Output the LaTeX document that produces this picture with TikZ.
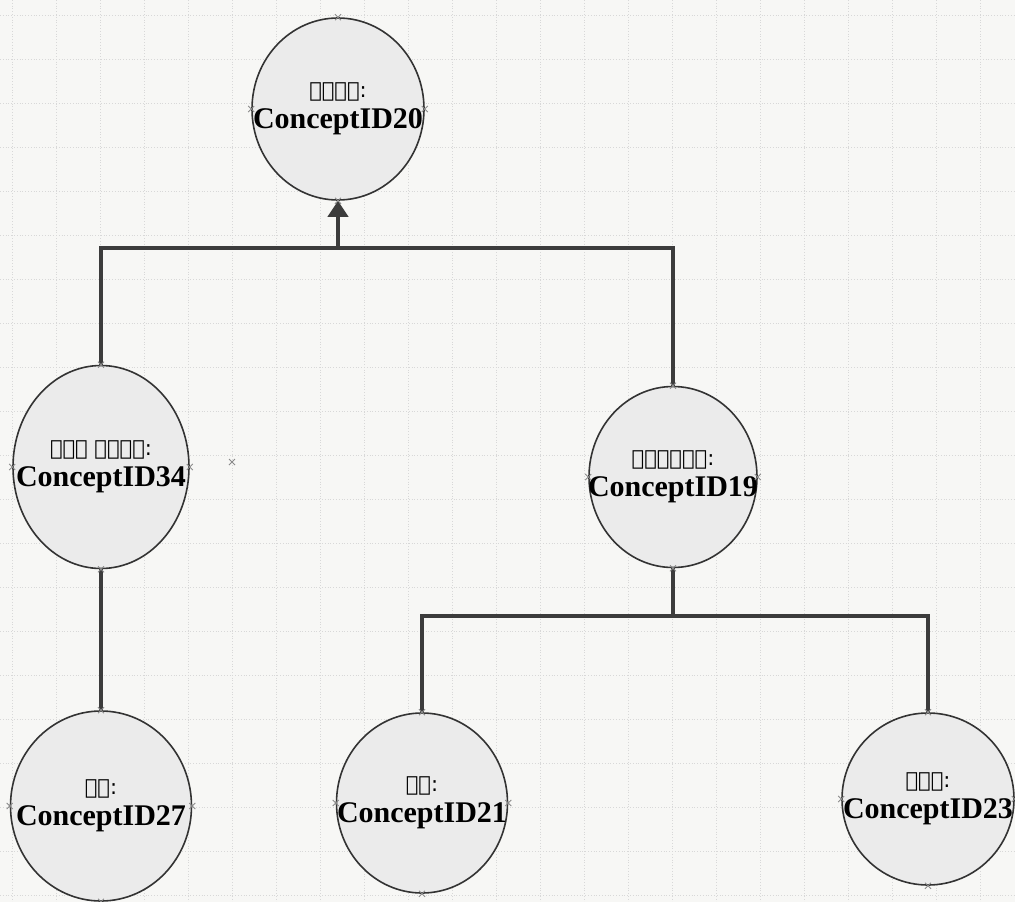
\documentclass[tikz,border=0pt]{standalone}
\usepackage{fontspec}
\setmainfont{Liberation Serif}
\newfontfamily\ethfont{DejaVu Sans}
\usetikzlibrary{shapes.geometric,arrows.meta}
\definecolor{bgc}{HTML}{F7F7F5}
\definecolor{gridc}{HTML}{D8D8D8}
\definecolor{fillc}{HTML}{EBEBEB}
\definecolor{edgec}{HTML}{333333}
\definecolor{connc}{HTML}{3C3C3C}
\definecolor{markc}{HTML}{8A8A8A}
\tikzset{
  concept/.style={ellipse, draw=edgec, fill=fillc, line width=1.6pt, inner sep=0pt},
  concepttext/.style={align=center, inner sep=0pt, text=black,
    font=\fontsize{30}{31}\selectfont\bfseries},
  conn/.style={draw=connc, line width=4.5pt},
  arrowconn/.style={conn, -{Triangle[width=20pt,length=16pt]}},
  xmark/.style={draw=markc, line width=0.9pt},
}
\newcommand{\eth}[1]{{\ethfont\mdseries\fontsize{21}{24}\selectfont #1}}
\newcommand{\anchormarks}[1]{%
  \foreach \a in {north,south,east,west}{%
    \draw[xmark] ([shift={(-3,-3)}]#1.\a) -- ([shift={(3,3)}]#1.\a)
                 ([shift={(-3,3)}]#1.\a) -- ([shift={(3,-3)}]#1.\a);}}
\begin{document}
\begin{tikzpicture}[x=1pt,y=-1pt]
\useasboundingbox (0,0) rectangle (1015,902);
\fill[bgc] (0,0) rectangle (1015,902);
% grid
\foreach \gx in {12,56,...,1015}{\draw[gridc, dotted, line width=0.8pt] (\gx,0) -- (\gx,902);}
\foreach \gy in {15,59,...,902}{\draw[gridc, dotted, line width=0.8pt] (0,\gy) -- (1015,\gy);}
% nodes
\node[concept, minimum width=172pt, minimum height=182pt,
  label={[concepttext]center:{\eth{ስፖርት:}\\ConceptID20}}] (n20) at (338,109) {};
\node[concept, minimum width=176pt, minimum height=203pt,
  label={[concepttext]center:{\eth{የውሃ ስፖርት:}\\ConceptID34}}] (n34) at (101,467) {};
\node[concept, minimum width=168pt, minimum height=181pt,
  label={[concepttext]center:{\eth{አትሌቲክስ:}\\ConceptID19}}] (n19) at (673,477) {};
\node[concept, minimum width=181pt, minimum height=190pt,
  label={[concepttext]center:{\eth{ዋና:}\\ConceptID27}}] (n27) at (101,806) {};
\node[concept, minimum width=171pt, minimum height=180pt,
  label={[concepttext]center:{\eth{ሩጫ:}\\ConceptID21}}] (n21) at (422,803) {};
\node[concept, minimum width=172pt, minimum height=172pt,
  label={[concepttext]center:{\eth{ዝላይ:}\\ConceptID23}}] (n23) at (928,799) {};
% junctions
\coordinate (j1) at (338,248);
\coordinate (j2) at (673,616);
% connectors
\draw[conn] (n34.north) |- (j1) -| (n19.north);
\draw[arrowconn] (j1) -- (n20.south);
\draw[conn] (n34.south) -- (n27.north);
\draw[conn] (n19.south) -- (j2);
\draw[conn] (n21.north) |- (j2) -| (n23.north);
% anchor markers
\anchormarks{n20}\anchormarks{n34}\anchormarks{n19}\anchormarks{n27}\anchormarks{n21}\anchormarks{n23}
\coordinate (stray) at (232,462);
\draw[xmark] ([shift={(-3,-3)}]stray) -- ([shift={(3,3)}]stray) ([shift={(-3,3)}]stray) -- ([shift={(3,-3)}]stray);
\end{tikzpicture}
\end{document}
